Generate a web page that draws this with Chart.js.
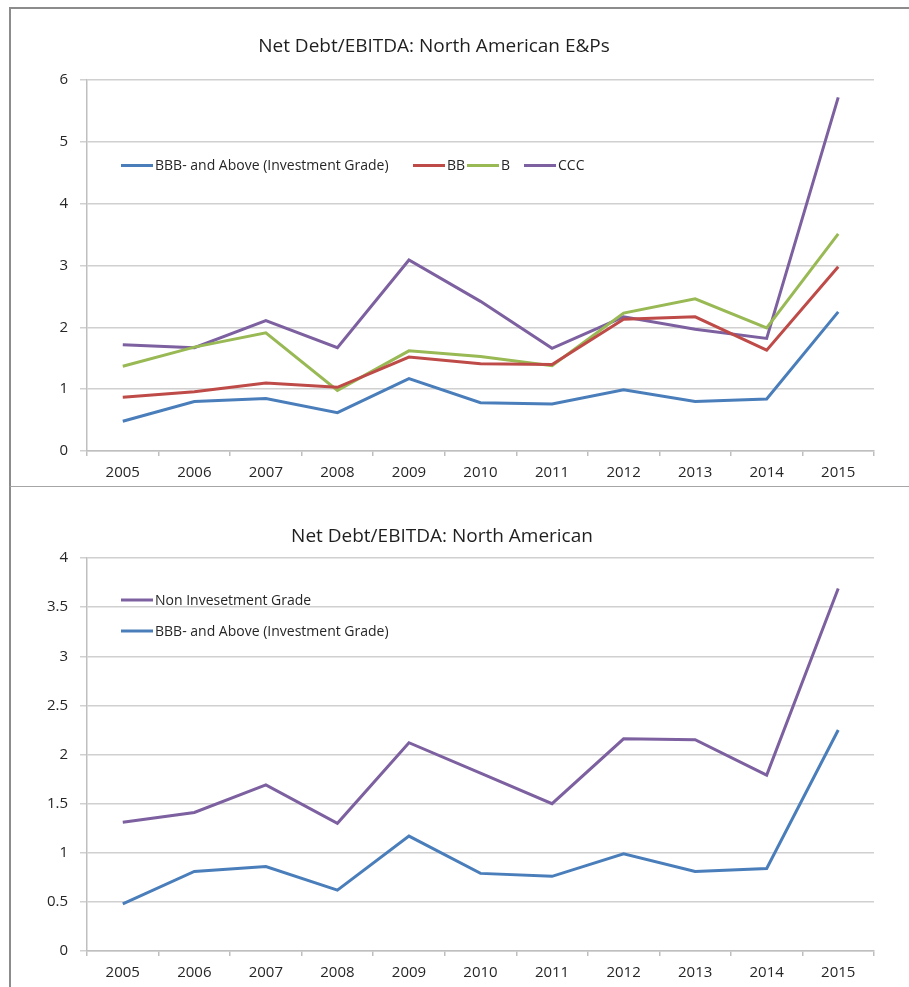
<!DOCTYPE html>
<html>
<head>
<meta charset="utf-8">
<script src="https://cdn.jsdelivr.net/npm/chart.js@4.4.1/dist/chart.umd.min.js"></script>
<style>
  html, body { margin: 0; padding: 0; background: #fff; overflow: hidden; width: 909px; height: 987px; }
  .frame { position: absolute; box-sizing: border-box; }
  #frameTop { left: 9px; top: 7px; width: 1000px; height: 480px; border-top: 2px solid #8c8c8c; border-left: 2px solid #8c8c8c; border-bottom: 1px solid #a6a6a6; }
  #frameBottom { left: 9px; top: 487px; width: 1000px; height: 600px; border-left: 2px solid #8c8c8c; }
  .box { position: absolute; left: 11px; width: 898px; }
  #boxTop { top: 9px; height: 477px; }
  #boxBottom { top: 488px; height: 499px; }
</style>
</head>
<body>
<div class="frame" id="frameTop"></div>
<div class="frame" id="frameBottom"></div>
<div class="box" id="boxTop"><canvas id="epChart"></canvas></div>
<div class="box" id="boxBottom"><canvas id="naChart"></canvas></div>
<script>
'use strict';

const years = ['2005', '2006', '2007', '2008', '2009', '2010', '2011', '2012', '2013', '2014', '2015'];

// top chart: North American E&Ps by rating
const bbbAbove = [0.48, 0.80, 0.85, 0.62, 1.17, 0.78, 0.76, 0.99, 0.80, 0.84, 2.25];
const bb = [0.87, 0.96, 1.10, 1.03, 1.52, 1.41, 1.40, 2.13, 2.17, 1.63, 2.98];
const b = [1.37, 1.68, 1.91, 0.98, 1.62, 1.53, 1.38, 2.23, 2.46, 1.99, 3.51];
const ccc = [1.72, 1.67, 2.11, 1.67, 3.09, 2.42, 1.66, 2.17, 1.97, 1.82, 5.72];

// bottom chart: North American
const nonInvestment = [1.31, 1.41, 1.69, 1.30, 2.12, 1.81, 1.50, 2.16, 2.15, 1.79, 3.69];
const bbbAboveNA = [0.48, 0.81, 0.86, 0.62, 1.17, 0.79, 0.76, 0.99, 0.81, 0.84, 2.25];

const BLUE = '#4a7ebb';
const RED = '#be4b48';
const GREEN = '#98b954';
const PURPLE = '#7d60a0';

const FONT = "'Open Sans', 'Liberation Sans', sans-serif";

// title drawn at a fixed spot of the canvas (excel centres it over the whole frame)
const fixedTitlePlugin = {
  id: 'fixedTitle',
  afterDraw(chart, args, opts) {
    const ctx = chart.ctx;
    ctx.save();
    ctx.font = opts.size + 'px ' + FONT;
    ctx.fillStyle = '#1f1f1f';
    ctx.textAlign = 'center';
    ctx.textBaseline = 'alphabetic';
    ctx.fillText(opts.text, opts.x, opts.y);
    ctx.restore();
  }
};

// legend that sits inside the plot area
const insideLegendPlugin = {
  id: 'insideLegend',
  afterDatasetsDraw(chart, args, opts) {
    const { ctx, chartArea } = chart;
    ctx.save();
    ctx.font = '14px ' + FONT;
    ctx.textBaseline = 'middle';
    ctx.fillStyle = '#262626';
    chart.data.datasets.forEach((ds, i) => {
      const x = chartArea.left + opts.xs[Math.min(i, opts.xs.length - 1)];
      const y = chartArea.top + opts.ys[Math.min(i, opts.ys.length - 1)];
      ctx.strokeStyle = ds.borderColor;
      ctx.lineWidth = 3;
      ctx.beginPath();
      ctx.moveTo(x, y);
      ctx.lineTo(x + 32, y);
      ctx.stroke();
      ctx.fillText(ds.label, x + 34, y + 1);
    });
    ctx.restore();
  }
};

function makeOptions(cfg) {
  return {
    responsive: true,
    maintainAspectRatio: false,
    animation: false,
    layout: {
      padding: { left: 0, right: 35, top: cfg.padTop, bottom: 0 }
    },
    plugins: {
      legend: { display: false },
      tooltip: { enabled: false },
      fixedTitle: cfg.title,
      insideLegend: cfg.legend
    },
    scales: {
      x: {
        offset: true,
        grid: {
          offset: true,
          drawOnChartArea: false,
          tickLength: 5,
          color: '#bfbfbf',
          lineWidth: 1.5
        },
        border: { color: '#bfbfbf', width: 1.5 },
        ticks: {
          padding: 8,
          color: '#262626',
          font: { family: FONT, size: 15 },
          maxRotation: 0
        },
        afterFit(scale) { scale.height = cfg.xHeight; }
      },
      y: {
        min: 0,
        max: cfg.yMax,
        grid: {
          color: '#d0d0d0',
          lineWidth: 1.5,
          tickLength: 7
        },
        border: { color: '#bfbfbf', width: 1.5 },
        ticks: {
          stepSize: cfg.yStep,
          padding: 12,
          color: '#262626',
          font: { family: FONT, size: 15 },
          callback: (v) => String(v)
        },
        afterFit(scale) { scale.width = 76; }
      }
    }
  };
}

function lineSet(label, data, color) {
  return {
    label: label,
    data: data,
    borderColor: color,
    backgroundColor: color,
    borderWidth: 3,
    pointRadius: 0,
    tension: 0,
    fill: false
  };
}

new Chart(document.getElementById('epChart'), {
  type: 'line',
  data: {
    labels: years,
    datasets: [
      lineSet('BBB- and Above (Investment Grade)', bbbAbove, BLUE),
      lineSet('BB', bb, RED),
      lineSet('B', b, GREEN),
      lineSet('CCC', ccc, PURPLE)
    ]
  },
  options: makeOptions({
    padTop: 71,
    xHeight: 35,
    yMax: 6,
    yStep: 1,
    title: { text: 'Net Debt/EBITDA: North American E&Ps', x: 423, y: 43, size: 19 },
    legend: { xs: [34, 326, 380, 437], ys: [85.5] }
  }),
  plugins: [fixedTitlePlugin, insideLegendPlugin]
});

new Chart(document.getElementById('naChart'), {
  type: 'line',
  data: {
    labels: years,
    datasets: [
      lineSet('Non Invesetment Grade', nonInvestment, PURPLE),
      lineSet('BBB- and Above (Investment Grade)', bbbAboveNA, BLUE)
    ]
  },
  options: makeOptions({
    padTop: 70,
    xHeight: 36,
    yMax: 4,
    yStep: 0.5,
    title: { text: 'Net Debt/EBITDA: North American', x: 431, y: 54, size: 19 },
    legend: { xs: [34], ys: [42, 73] }
  }),
  plugins: [fixedTitlePlugin, insideLegendPlugin]
});
</script>
</body>
</html>
